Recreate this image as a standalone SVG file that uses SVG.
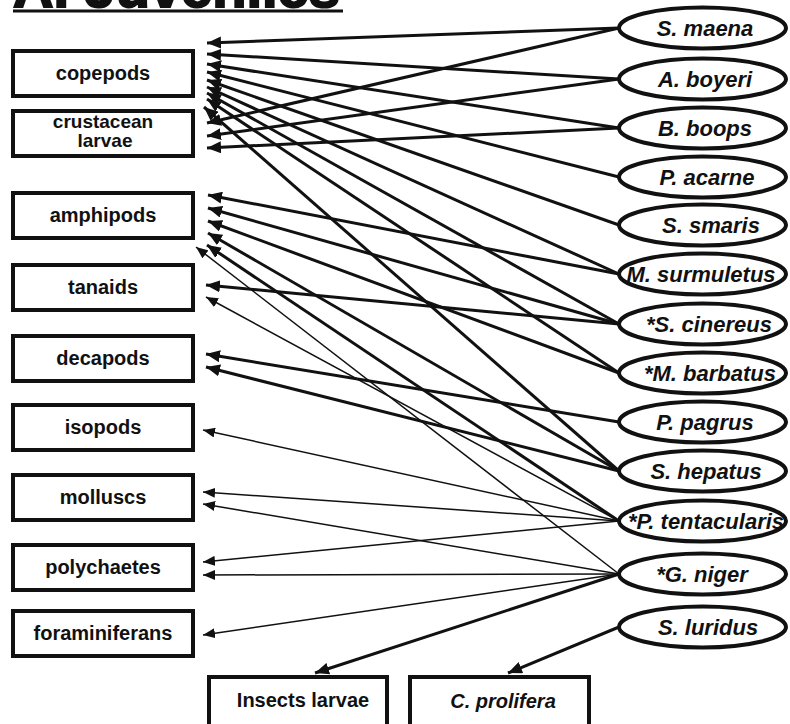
<svg xmlns="http://www.w3.org/2000/svg" width="790" height="724" viewBox="0 0 790 724">
<style>
.box{fill:#fff;stroke:#111;stroke-width:4}
.ell{fill:#fff;stroke:#111;stroke-width:4}
.bt{font-family:"Liberation Sans",Arial,sans-serif;font-weight:bold;font-size:20px;fill:#111;text-anchor:middle}
.et{font-family:"Liberation Sans",Arial,sans-serif;font-weight:bold;font-style:italic;font-size:22px;fill:#111;text-anchor:middle}
.thick{stroke:#111;stroke-width:3;fill:none;marker-end:url(#ah)}
.thin{stroke:#111;stroke-width:1.5;fill:none;marker-end:url(#ahs)}
</style>
<defs>
<marker id="ah" markerUnits="userSpaceOnUse" markerWidth="14" markerHeight="12" refX="14" refY="6" orient="auto">
<path d="M0,0 L14,6 L0,12 z" fill="#111"/>
</marker>
<marker id="ahs" markerUnits="userSpaceOnUse" markerWidth="12" markerHeight="10" refX="12" refY="5" orient="auto">
<path d="M0,0 L12,5 L0,10 z" fill="#111"/>
</marker>
</defs>
<rect width="790" height="724" fill="#fff"/>
<g id="title">
<text x="13" y="7" font-family="'Liberation Sans',Arial,sans-serif" font-weight="bold" font-size="56" fill="#111" stroke="#111" stroke-width="2">A. Juveniles</text>
<rect x="13" y="9.5" width="330" height="3" fill="#111"/>
</g>
<g id="connectors">
<line class="thick" x1="619" y1="28" x2="207" y2="43"/>
<line class="thick" x1="619" y1="79" x2="207" y2="54"/>
<line class="thick" x1="619" y1="128" x2="207" y2="64"/>
<line class="thick" x1="619" y1="177" x2="207" y2="72"/>
<line class="thick" x1="619" y1="225" x2="207" y2="80"/>
<line class="thick" x1="619" y1="274" x2="207" y2="87"/>
<line class="thick" x1="619" y1="324" x2="207" y2="93"/>
<line class="thick" x1="619" y1="373" x2="207" y2="99"/>
<line class="thick" x1="619" y1="471" x2="204" y2="107"/>
<line class="thick" x1="619" y1="28" x2="207" y2="123"/>
<line class="thick" x1="619" y1="79" x2="207" y2="136"/>
<line class="thick" x1="619" y1="128" x2="207" y2="148"/>
<line class="thick" x1="619" y1="274" x2="208" y2="195"/>
<line class="thick" x1="619" y1="324" x2="208" y2="208"/>
<line class="thick" x1="619" y1="373" x2="208" y2="221"/>
<line class="thick" x1="619" y1="471" x2="208" y2="233"/>
<line class="thick" x1="619" y1="521" x2="207" y2="245"/>
<line class="thin" x1="619" y1="574" x2="196" y2="247"/>
<line class="thick" x1="619" y1="324" x2="206" y2="285"/>
<line class="thin" x1="619" y1="521" x2="206" y2="297"/>
<line class="thick" x1="619" y1="422" x2="206" y2="354"/>
<line class="thick" x1="619" y1="471" x2="206" y2="367"/>
<line class="thin" x1="619" y1="521" x2="203" y2="430"/>
<line class="thin" x1="619" y1="521" x2="203" y2="492"/>
<line class="thin" x1="619" y1="574" x2="203" y2="504"/>
<line class="thin" x1="619" y1="521" x2="203" y2="562"/>
<line class="thin" x1="619" y1="574" x2="203" y2="575"/>
<line class="thin" x1="619" y1="574" x2="203" y2="635"/>
<line class="thick" x1="619" y1="574" x2="315" y2="673"/>
<line class="thick" x1="619" y1="627" x2="508" y2="673"/>
</g>
<g id="copepods"><rect class="box" x="13" y="51" width="180" height="45"/><text class="bt" x="103" y="80">copepods</text></g>
<g id="crustacean-larvae"><rect class="box" x="13" y="111" width="180" height="45"/><text class="bt" x="103" y="128" style="font-size:19px">crustacean</text><text class="bt" x="105" y="147" style="font-size:19px">larvae</text></g>
<g id="amphipods"><rect class="box" x="13" y="193" width="180" height="45"/><text class="bt" x="103" y="222">amphipods</text></g>
<g id="tanaids"><rect class="box" x="13" y="265" width="180" height="45"/><text class="bt" x="103" y="294">tanaids</text></g>
<g id="decapods"><rect class="box" x="13" y="336" width="180" height="45"/><text class="bt" x="103" y="365">decapods</text></g>
<g id="isopods"><rect class="box" x="13" y="405" width="180" height="45"/><text class="bt" x="103" y="434">isopods</text></g>
<g id="molluscs"><rect class="box" x="13" y="475" width="180" height="45"/><text class="bt" x="103" y="504">molluscs</text></g>
<g id="polychaetes"><rect class="box" x="13" y="545" width="180" height="45"/><text class="bt" x="103" y="574">polychaetes</text></g>
<g id="foraminiferans"><rect class="box" x="13" y="611" width="180" height="45"/><text class="bt" x="103" y="640">foraminiferans</text></g>
<g id="insects-larvae"><rect class="box" x="209" y="677" width="178" height="52"/><text class="bt" x="303" y="707">Insects  larvae</text></g>
<g id="c-prolifera"><rect class="box" x="410" y="677" width="179" height="52"/><text class="et" x="503" y="708" style="font-size:20px">C. prolifera</text></g>
<g id="s-maena"><ellipse class="ell" cx="702.5" cy="28" rx="83.5" ry="20.5"/><text class="et" x="705" y="36">S. maena</text></g>
<g id="a-boyeri"><ellipse class="ell" cx="702.5" cy="79" rx="83.5" ry="20.5"/><text class="et" x="705" y="87">A. boyeri</text></g>
<g id="b-boops"><ellipse class="ell" cx="702.5" cy="128" rx="83.5" ry="20.5"/><text class="et" x="705" y="136">B. boops</text></g>
<g id="p-acarne"><ellipse class="ell" cx="702.5" cy="177" rx="83.5" ry="20.5"/><text class="et" x="707" y="185">P. acarne</text></g>
<g id="s-smaris"><ellipse class="ell" cx="702.5" cy="225" rx="83.5" ry="20.5"/><text class="et" x="711" y="233">S. smaris</text></g>
<g id="m-surmuletus"><ellipse class="ell" cx="702.5" cy="274" rx="83.5" ry="20.5"/><text class="et" x="701" y="282">M. surmuletus</text></g>
<g id="s-cinereus"><ellipse class="ell" cx="702.5" cy="324" rx="83.5" ry="20.5"/><text class="et" x="709" y="332">*S. cinereus</text></g>
<g id="m-barbatus"><ellipse class="ell" cx="702.5" cy="373" rx="83.5" ry="20.5"/><text class="et" x="710" y="381">*M. barbatus</text></g>
<g id="p-pagrus"><ellipse class="ell" cx="702.5" cy="422" rx="83.5" ry="20.5"/><text class="et" x="705" y="430">P. pagrus</text></g>
<g id="s-hepatus"><ellipse class="ell" cx="702.5" cy="471" rx="83.5" ry="20.5"/><text class="et" x="706" y="479">S. hepatus</text></g>
<g id="p-tentacularis"><ellipse class="ell" cx="702.5" cy="521" rx="83.5" ry="20.5"/><text class="et" x="706" y="529">*P. tentacularis</text></g>
<g id="g-niger"><ellipse class="ell" cx="702.5" cy="574" rx="83.5" ry="20.5"/><text class="et" x="702" y="582">*G. niger</text></g>
<g id="s-luridus"><ellipse class="ell" cx="702.5" cy="627" rx="83.5" ry="20.5"/><text class="et" x="708" y="635">S. luridus</text></g>
</svg>
